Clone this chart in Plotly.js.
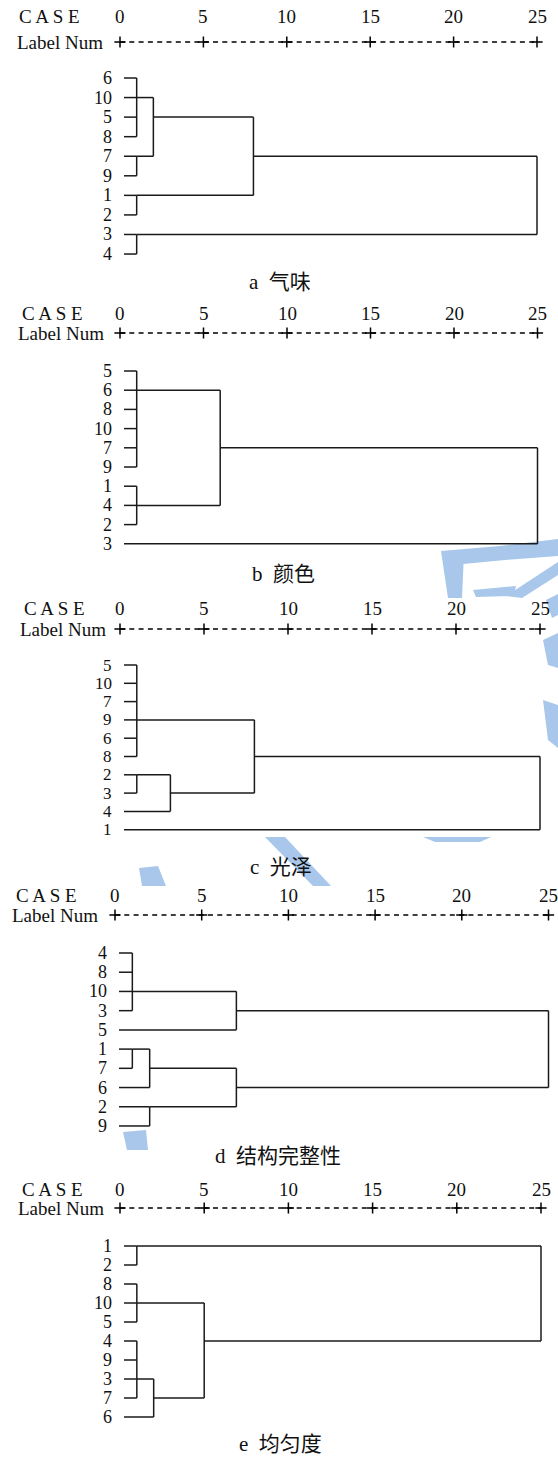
<!DOCTYPE html>
<html><head><meta charset="utf-8">
<script src="https://cdn.plot.ly/plotly-3.0.1.min.js"></script>
<style>
html,body{margin:0;padding:0;background:#fff}
#chart{width:558px;height:1457px}
#chart text{font-family:'Liberation Serif','Times New Roman',Times,'Noto Sans CJK SC',serif !important;}
</style>
</head><body><div id="chart"></div>
<script>
// ---------- data ----------
const tickValues = [0, 5, 10, 15, 20, 25];
const caseTitle = 'C A S E';
const labelTitle = 'Label Num';

// panel a 气味
const leavesA = ['6','10','5','8','7','9','1','2','3','4'];
const mergeChildrenA = [['6','10','5','8'], ['7','9'], [0,1], ['1','2'], [2,3], ['3','4'], [4,5]];
const mergeDistA = [1, 1, 2, 1, 8, 1, 25];
const mergeRowA = ['10','7','5','1','7','3',null];
const captionA = 'a\u00a0\u00a0气味';

// panel b 颜色
const leavesB = ['5','6','8','10','7','9','1','4','2','3'];
const mergeChildrenB = [['5','6','8','10','7','9'], ['1','4','2'], [0,1], [2,'3']];
const mergeDistB = [1, 1, 6, 25];
const mergeRowB = ['6','4','7',null];
const captionB = 'b\u00a0\u00a0颜色';

// panel c 光泽
const leavesC = ['5','10','7','9','6','8','2','3','4','1'];
const mergeChildrenC = [['5','10','7','9','6','8'], ['2','3'], [1,'4'], [0,2], [3,'1']];
const mergeDistC = [1, 1, 3, 8, 25];
const mergeRowC = ['9','2','3','8',null];
const captionC = 'c\u00a0\u00a0光泽';

// panel d 结构完整性
const leavesD = ['4','8','10','3','5','1','7','6','2','9'];
const mergeChildrenD = [['4','8','10','3'], [0,'5'], ['1','7'], [2,'6'], ['2','9'], [3,4], [1,5]];
const mergeDistD = [1, 7, 1, 2, 2, 7, 25];
const mergeRowD = ['10','3','1','7','2','6',null];
const captionD = 'd\u00a0\u00a0结构完整性';

// panel e 均匀度
const leavesE = ['1','2','8','10','5','4','9','3','7','6'];
const mergeChildrenE = [['1','2'], ['8','10','5'], ['4','9','3','7'], [2,'6'], [1,3], [0,4]];
const mergeDistE = [1, 1, 1, 2, 5, 25];
const mergeRowE = ['1','10','3','7','4',null];
const captionE = 'e\u00a0\u00a0均匀度';

// ---------- layout geometry (pixels) ----------
const W = 558, H = 1457;
const panels = [
  {leaves: leavesA, ch: mergeChildrenA, d: mergeDistA, r: mergeRowA, cap: captionA,
   p0:120, p25:537, top:0, bottom:298, row0:78, dy:19.56, headY:16, lineY:42, capY:282, capX:280, caseX:17, labX:15, lf:18},
  {leaves: leavesB, ch: mergeChildrenB, d: mergeDistB, r: mergeRowB, cap: captionB,
   p0:120, p25:537.5, top:298, bottom:590, row0:371, dy:19.2, headY:313, lineY:333, capY:574, capX:283, caseX:20, labX:16, lf:18},
  {leaves: leavesC, ch: mergeChildrenC, d: mergeDistC, r: mergeRowC, cap: captionC,
   p0:120, p25:540, top:590, bottom:882, row0:665, dy:18.3, headY:608, lineY:629, capY:867, capX:281, caseX:22, labX:18, lf:17},
  {leaves: leavesD, ch: mergeChildrenD, d: mergeDistD, r: mergeRowD, cap: captionD,
   p0:115, p25:548.5, top:882, bottom:1175, row0:953, dy:19.22, headY:895, lineY:915, capY:1156, capX:278, caseX:14, labX:10, lf:18},
  {leaves: leavesE, ch: mergeChildrenE, d: mergeDistE, r: mergeRowE, cap: captionE,
   p0:120, p25:541, top:1175, bottom:1457, row0:1246, dy:19.0, headY:1189, lineY:1208, capY:1444, capX:280, caseX:20, labX:16, lf:18}
];

const LINE = '#1a1a1a';
const SERIF = 'Liberation Serif';
const leafStartPx = 4;   // stub starts a little right of 0
const labelGapPx = 11;

const traces = [], annotations = [], layout = {
  width: W, height: H, margin: {l:0, r:0, t:0, b:0},
  font: {family: SERIF, color: '#111'},
  paper_bgcolor: '#fff', plot_bgcolor: 'rgba(0,0,0,0)', showlegend: false
};

panels.forEach((p, i) => {
  const k = i === 0 ? '' : String(i + 1);
  const xa = 'x' + k, ya = 'y' + k;
  const unit = (p.p25 - p.p0) / 25;
  const toRow = py => (py - p.row0) / p.dy;
  layout['xaxis' + k] = {domain: [0, 1], range: [-p.p0 / unit, (W - p.p0) / unit], visible: false, fixedrange: true, anchor: ya};
  layout['yaxis' + k] = {domain: [1 - p.bottom / H, 1 - p.top / H], range: [toRow(p.bottom), toRow(p.top)], visible: false, fixedrange: true, anchor: xa};

  // dendrogram
  const leafStart = leafStartPx / unit;
  const rowOf = l => p.leaves.indexOf(l);
  const mRow = p.r.map(l => l === null ? null : rowOf(l));
  const xs = [], ys = [];
  p.ch.forEach((children, m) => {
    const dist = p.d[m];
    const rs = [];
    children.forEach(c => {
      let r, x0;
      if (typeof c === 'string') { r = rowOf(c); x0 = leafStart; }
      else { r = mRow[c]; x0 = p.d[c]; }
      rs.push(r);
      xs.push(x0, dist, null); ys.push(r, r, null);
    });
    xs.push(dist, dist, null); ys.push(Math.min(...rs), Math.max(...rs), null);
  });
  traces.push({x: xs, y: ys, xaxis: xa, yaxis: ya, mode: 'lines', hoverinfo: 'skip',
    line: {color: LINE, width: 1.5}});

  // leaf labels
  p.leaves.forEach((l, j) => annotations.push({
    x: leafStart - labelGapPx / unit, y: j, xref: xa, yref: ya, xanchor: 'right', yanchor: 'middle',
    text: l, showarrow: false, borderpad: 0, font: {family: SERIF, size: p.lf, color: '#111'}
  }));

  // header
  const headRow = toRow(p.headY), lineRow = toRow(p.lineY);
  traces.push({x: [tickValues[0], tickValues[tickValues.length - 1]], y: [lineRow, lineRow], xaxis: xa, yaxis: ya,
    mode: 'lines', hoverinfo: 'skip', line: {color: '#000', width: 1.4, dash: '5px,4.3px'}});
  traces.push({x: tickValues, y: tickValues.map(() => lineRow), xaxis: xa, yaxis: ya, mode: 'markers', hoverinfo: 'skip',
    marker: {symbol: 'cross-thin', size: 8, color: '#000', line: {color: '#000', width: 1.5}}});
  tickValues.forEach(t => annotations.push({
    x: t, y: headRow, xref: xa, yref: ya, xanchor: 'center', yanchor: 'middle',
    text: String(t), showarrow: false, font: {family: SERIF, size: 19, color: '#111'}
  }));
  annotations.push({x: p.caseX / W, y: headRow, xref: 'paper', yref: ya, xanchor: 'left', yanchor: 'middle',
    text: caseTitle, showarrow: false, font: {family: SERIF, size: 19, color: '#111'}});
  annotations.push({x: p.labX / W, y: lineRow, xref: 'paper', yref: ya, xanchor: 'left', yanchor: 'middle',
    text: labelTitle, showarrow: false, font: {family: SERIF, size: 19, color: '#111'}});
  // caption
  annotations.push({x: p.capX / W, y: toRow(p.capY), xref: 'paper', yref: ya, xanchor: 'center', yanchor: 'middle',
    text: p.cap, showarrow: false, font: {family: SERIF, size: 21, color: '#111'}});
});

// faint watermark pieces (decoration)
const wm = [
  [[441,551],[500,546],[558,539],[558,556],[505,560],[463,564]],
  [[441,551],[464,553],[462,598],[448,598]],
  [[473,590],[516,586],[514,596],[476,597]],
  [[506,596],[558,562],[558,575],[522,598]],
  [[546,600],[558,594],[558,615],[552,618]],
  [[543,640],[558,633],[558,668],[548,665]],
  [[543,700],[558,705],[558,748],[548,740]],
  [[423,837],[491,837],[480,842],[435,842]],
  [[265,837],[285,837],[331,886],[313,886]],
  [[139,868],[158,866],[166,886],[142,886]],
  [[123,1132],[146,1130],[148,1150],[127,1150]]
];
layout.shapes = wm.map(pts => ({
  type: 'path', xref: 'paper', yref: 'paper', layer: 'below',
  path: 'M' + pts.map(q => (q[0] / W).toFixed(5) + ',' + (1 - q[1] / H).toFixed(5)).join(' L') + ' Z',
  fillcolor: 'rgb(168,199,235)', line: {width: 0}
}));
layout.annotations = annotations;

Plotly.newPlot('chart', traces, layout, {staticPlot: true, displayModeBar: false});
</script></body></html>
